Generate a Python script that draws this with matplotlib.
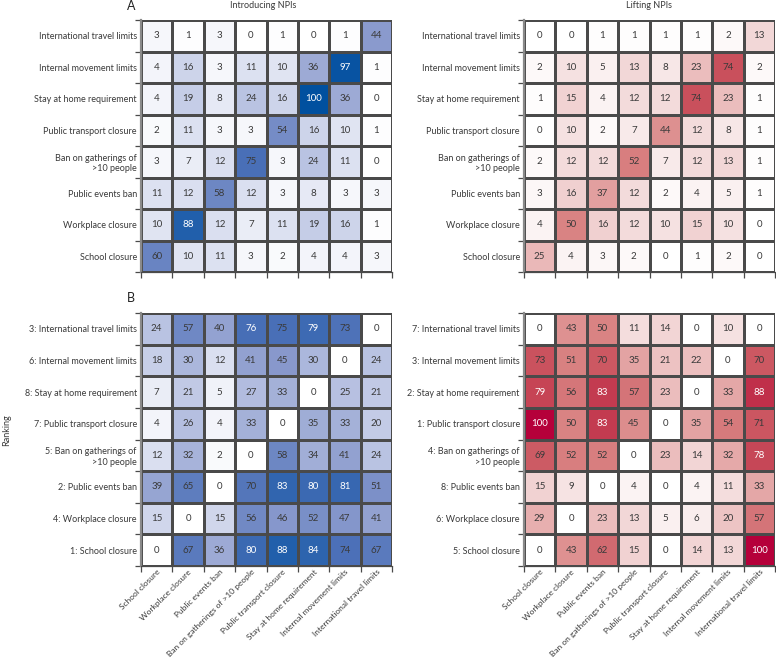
import numpy as np
import matplotlib
matplotlib.use("Agg")
import matplotlib.pyplot as plt
from matplotlib.colors import LinearSegmentedColormap

plt.rcParams['font.family'] = ['Lato', 'DejaVu Sans']

col_labels = ["School closure", "Workplace closure", "Public events ban",
              "Ban on gatherings of >10 people", "Public transport closure",
              "Stay at home requirement", "Internal movement limits",
              "International travel limits"]

rows_a = ["International travel limits", "Internal movement limits",
          "Stay at home requirement", "Public transport closure",
          "Ban on gatherings of\n>10 people", "Public events ban",
          "Workplace closure", "School closure"]

intro_a = [[3, 1, 3, 0, 1, 0, 1, 44],
           [4, 16, 3, 11, 10, 36, 97, 1],
           [4, 19, 8, 24, 16, 100, 36, 0],
           [2, 11, 3, 3, 54, 16, 10, 1],
           [3, 7, 12, 75, 3, 24, 11, 0],
           [11, 12, 58, 12, 3, 8, 3, 3],
           [10, 88, 12, 7, 11, 19, 16, 1],
           [60, 10, 11, 3, 2, 4, 4, 3]]

lift_a = [[0, 0, 1, 1, 1, 1, 2, 13],
          [2, 10, 5, 13, 8, 23, 74, 2],
          [1, 15, 4, 12, 12, 74, 23, 1],
          [0, 10, 2, 7, 44, 12, 8, 1],
          [2, 12, 12, 52, 7, 12, 13, 1],
          [3, 16, 37, 12, 2, 4, 5, 1],
          [4, 50, 16, 12, 10, 15, 10, 0],
          [25, 4, 3, 2, 0, 1, 2, 0]]

rows_b_intro = ["3: International travel limits", "6: Internal movement limits",
                "8: Stay at home requirement", "7: Public transport closure",
                "5: Ban on gatherings of\n>10 people", "2: Public events ban",
                "4: Workplace closure", "1: School closure"]

intro_b = [[24, 57, 40, 76, 75, 79, 73, 0],
           [18, 30, 12, 41, 45, 30, 0, 24],
           [7, 21, 5, 27, 33, 0, 25, 21],
           [4, 26, 4, 33, 0, 35, 33, 20],
           [12, 32, 2, 0, 58, 34, 41, 24],
           [39, 65, 0, 70, 83, 80, 81, 51],
           [15, 0, 15, 56, 46, 52, 47, 41],
           [0, 67, 36, 80, 88, 84, 74, 67]]

rows_b_lift = ["7: International travel limits", "3: Internal movement limits",
               "2: Stay at home requirement", "1: Public transport closure",
               "4: Ban on gatherings of\n>10 people", "8: Public events ban",
               "6: Workplace closure", "5: School closure"]

lift_b = [[0, 43, 50, 11, 14, 0, 10, 0],
          [73, 51, 70, 35, 21, 22, 0, 70],
          [79, 56, 83, 57, 23, 0, 33, 88],
          [100, 50, 83, 45, 0, 35, 54, 71],
          [69, 52, 52, 0, 23, 14, 32, 78],
          [15, 9, 0, 4, 0, 4, 11, 33],
          [29, 0, 23, 13, 5, 6, 20, 57],
          [0, 43, 62, 15, 0, 14, 13, 100]]

blue = LinearSegmentedColormap.from_list(
    "bl", [(0, "#ffffff"), (0.16, "#ccd3ea"), (0.44, "#8a9acd"),
           (0.75, "#4a6fb7"), (0.88, "#225fab"), (1.0, "#00509f")])
red = LinearSegmentedColormap.from_list(
    "rd", [(0, "#ffffff"), (0.12, "#f3dada"), (0.23, "#ebbcbc"),
           (0.5, "#d98383"), (0.74, "#c9505c"), (0.88, "#c0304a"),
           (1.0, "#b5003a")])

W, H = 776, 659
fig = plt.figure(figsize=(W / 100, H / 100), dpi=100)

def fx(px):
    return px / W

def fy(py):
    return 1 - py / H

FS = 6.5
XFS = 6.0
NFS = 7.0
TXT = "#3a3a3a"

def panel(rect, data, rows, cmap, show_x):
    ax = fig.add_axes(rect)
    d = np.array(data, dtype=float)
    n_r, n_c = d.shape
    ax.pcolormesh(np.arange(n_c + 1), np.arange(n_r + 1), d, cmap=cmap,
                  vmin=0, vmax=100, edgecolors="#4a4a4a", linewidth=0.9)
    ax.set_xlim(0, n_c)
    ax.set_ylim(n_r, 0)
    for i in range(n_r):
        for j in range(n_c):
            v = d[i, j]
            c = "white" if v >= 76 else TXT
            ax.text(j + 0.5, i + 0.5, f"{int(v)}", ha="center", va="center",
                    fontsize=NFS, color=c)
    ax.set_yticks(np.arange(n_r) + 0.5)
    ax.set_yticklabels(rows, fontsize=FS, color=TXT)
    ax.set_xticks(np.arange(n_c) + 0.5)
    if show_x:
        ax.set_xticklabels(col_labels, rotation=45, ha="right",
                           rotation_mode="anchor", fontsize=XFS, color=TXT)
    else:
        ax.set_xticklabels([])
    ax.tick_params(axis="y", which="major", length=0, pad=3)
    ax.tick_params(axis="x", which="major", length=0, pad=1.5)
    ax.set_xticks(np.arange(n_c + 1), minor=True)
    ax.set_yticks(np.arange(n_r + 1), minor=True)
    ax.tick_params(which="minor", length=4, width=0.9, color="#4a4a4a")
    for s in ["top", "right"]:
        ax.spines[s].set_visible(False)
    ax.spines["left"].set_color("#8a8a8a")
    ax.spines["left"].set_linewidth(1.6)
    ax.spines["bottom"].set_color("#4a4a4a")
    ax.spines["bottom"].set_linewidth(0.9)
    return ax

wa = fx(251)
ha = 252 / H
axA1 = panel([fx(141), fy(272), wa, ha], intro_a, rows_a, blue, False)
axA2 = panel([fx(524), fy(272), wa, ha], lift_a, rows_a, red, False)
axB1 = panel([fx(141), fy(566), wa, 253 / H], intro_b, rows_b_intro, blue, True)
axB2 = panel([fx(524), fy(566), wa, 253 / H], lift_b, rows_b_lift, red, True)

fig.text(fx(131), fy(6), "A", fontsize=9, ha="center", va="center", color="#222222")
fig.text(fx(131), fy(298), "B", fontsize=9, ha="center", va="center", color="#222222")
fig.text(fx(263), fy(6), "Introducing NPIs", fontsize=FS, ha="center", va="center", color=TXT)
fig.text(fx(649), fy(6), "Lifting NPIs", fontsize=FS, ha="center", va="center", color=TXT)
fig.text(fx(7), fy(430), "Ranking", fontsize=FS, ha="center", va="center",
         rotation=90, color=TXT)

fig.savefig("out.png", dpi=100)
